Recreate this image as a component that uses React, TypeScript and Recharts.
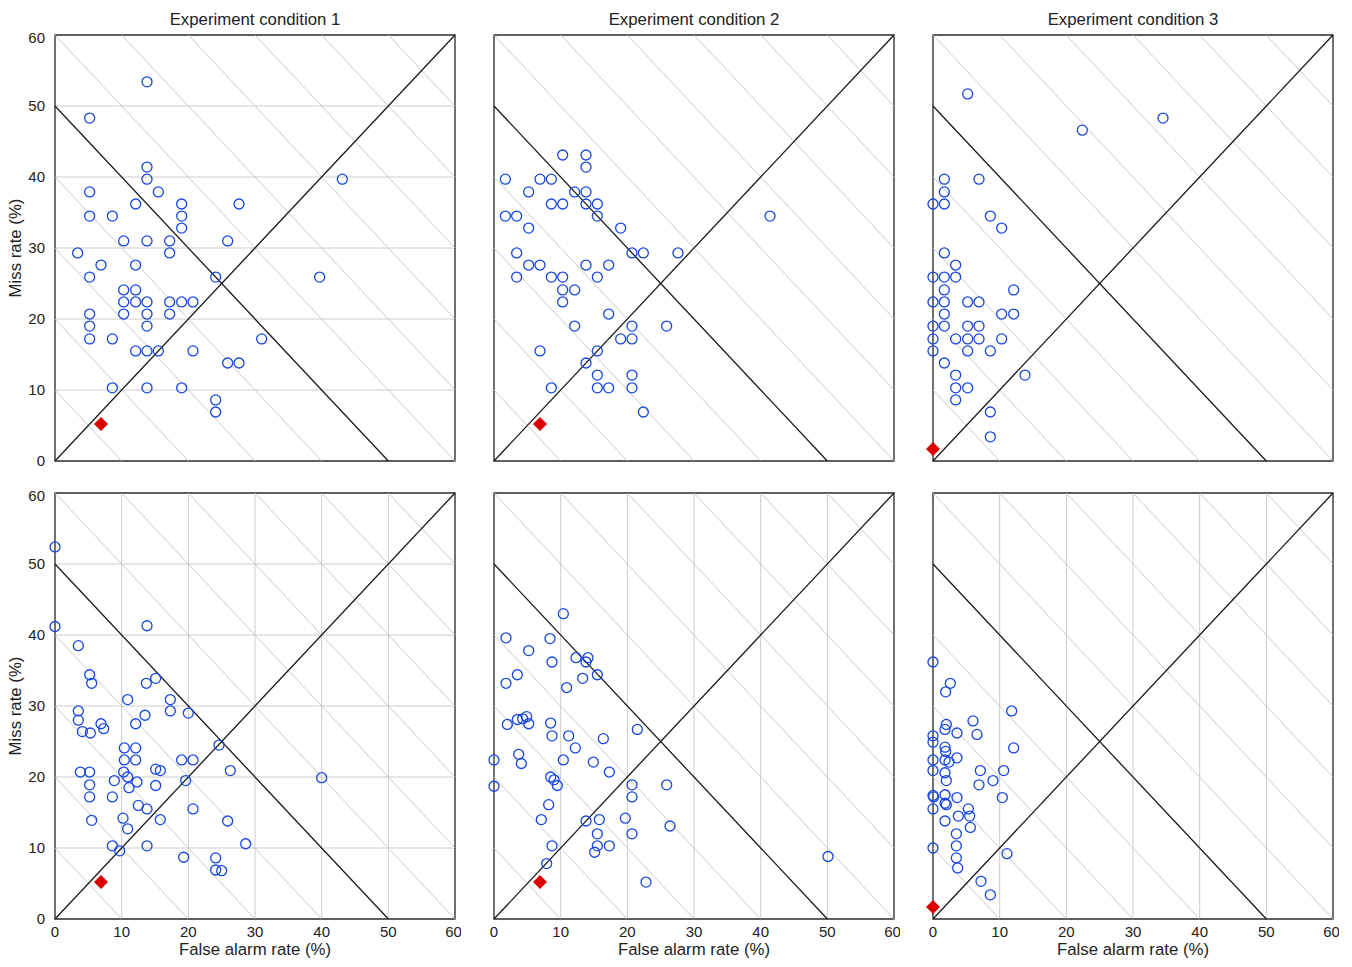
import {
  ScatterChart,
  Scatter,
  XAxis,
  YAxis,
  CartesianGrid,
  ReferenceLine,
  ReferenceArea,
} from "recharts";

const BLUE = "#1746e0";
const RED = "#dd0000";
const FONT = '"Liberation Sans", Arial, sans-serif';

const TICKS = [0, 10, 20, 30, 40, 50, 60];
// x + y = k grey guide lines
const DIAG_LEVELS = [10, 20, 30, 40, 60, 70, 80, 90, 100, 110];
const CONDITIONS = ["Experiment condition 1", "Experiment condition 2", "Experiment condition 3"];

// [false alarm %, miss %]
const ROW1_COND1 = [
  [13.8, 53.4], [5.2, 48.3], [13.8, 41.4], [13.8, 39.7], [43.1, 39.7], [5.2, 37.9], [15.5, 37.9],
  [12.1, 36.2], [19.0, 36.2], [27.6, 36.2], [5.2, 34.5], [8.6, 34.5], [19.0, 34.5], [19.0, 32.8],
  [10.3, 31.0], [13.8, 31.0], [17.2, 31.0], [25.9, 31.0], [3.4, 29.3], [17.2, 29.3], [6.9, 27.6],
  [12.1, 27.6], [5.2, 25.9], [24.1, 25.9], [39.7, 25.9], [10.3, 24.1], [12.1, 24.1], [10.3, 22.4],
  [12.1, 22.4], [13.8, 22.4], [17.2, 22.4], [19.0, 22.4], [20.7, 22.4], [5.2, 20.7], [10.3, 20.7],
  [13.8, 20.7], [17.2, 20.7], [5.2, 19.0], [13.8, 19.0], [5.2, 17.2], [8.6, 17.2], [31.0, 17.2],
  [12.1, 15.5], [13.8, 15.5], [15.5, 15.5], [20.7, 15.5], [25.9, 13.8], [27.6, 13.8], [8.6, 10.3],
  [13.8, 10.3], [19.0, 10.3], [24.1, 8.6], [24.1, 6.9],
];
const ROW1_COND2 = [
  [10.3, 43.1], [13.8, 43.1], [13.8, 41.4], [1.7, 39.7], [6.9, 39.7], [8.6, 39.7], [5.2, 37.9],
  [12.1, 37.9], [13.8, 37.9], [8.6, 36.2], [10.3, 36.2], [13.8, 36.2], [15.5, 36.2], [1.7, 34.5],
  [3.4, 34.5], [15.5, 34.5], [41.4, 34.5], [5.2, 32.8], [19.0, 32.8], [3.4, 29.3], [20.7, 29.3],
  [22.4, 29.3], [27.6, 29.3], [5.2, 27.6], [6.9, 27.6], [13.8, 27.6], [17.2, 27.6], [3.4, 25.9],
  [8.6, 25.9], [10.3, 25.9], [15.5, 25.9], [10.3, 24.1], [12.1, 24.1], [10.3, 22.4], [17.2, 20.7],
  [12.1, 19.0], [20.7, 19.0], [25.9, 19.0], [19.0, 17.2], [20.7, 17.2], [6.9, 15.5], [15.5, 15.5],
  [13.8, 13.8], [15.5, 12.1], [20.7, 12.1], [8.6, 10.3], [15.5, 10.3], [17.2, 10.3], [20.7, 10.3],
  [22.4, 6.9],
];
const ROW1_COND3 = [
  [5.2, 51.7], [34.5, 48.3], [22.4, 46.6], [1.7, 39.7], [6.9, 39.7], [1.7, 37.9], [0, 36.2],
  [1.7, 36.2], [8.6, 34.5], [10.3, 32.8], [1.7, 29.3], [3.4, 27.6], [0, 25.9], [1.7, 25.9],
  [3.4, 25.9], [1.7, 24.1], [12.1, 24.1], [0, 22.4], [1.7, 22.4], [5.2, 22.4], [6.9, 22.4],
  [1.7, 20.7], [10.3, 20.7], [12.1, 20.7], [0, 19.0], [1.7, 19.0], [5.2, 19.0], [6.9, 19.0],
  [0, 17.2], [3.4, 17.2], [5.2, 17.2], [6.9, 17.2], [10.3, 17.2], [0, 15.5], [5.2, 15.5],
  [8.6, 15.5], [1.7, 13.8], [13.8, 12.1], [3.4, 12.1], [3.4, 10.3], [5.2, 10.3], [3.4, 8.6],
  [8.6, 6.9], [8.6, 3.4],
];
const ROW2_COND1 = [
  [0, 52.4], [0, 41.2], [13.8, 41.3], [3.5, 38.5], [5.2, 34.4], [5.5, 33.2], [13.7, 33.2],
  [15.1, 33.9], [10.9, 30.9], [17.3, 30.9], [3.5, 29.3], [17.3, 29.3], [20.0, 29.0], [13.5, 28.7],
  [3.5, 28.0], [6.9, 27.5], [7.3, 26.8], [12.1, 27.5], [4.1, 26.4], [5.3, 26.2], [10.4, 24.1],
  [12.1, 24.1], [24.6, 24.5], [10.4, 22.4], [12.1, 22.4], [19.0, 22.4], [20.7, 22.4], [15.1, 21.1],
  [15.8, 20.9], [26.3, 20.9], [3.8, 20.7], [5.2, 20.7], [10.3, 20.7], [10.9, 20.0], [40.0, 19.9],
  [19.6, 19.5], [8.9, 19.5], [12.3, 19.3], [5.2, 18.9], [15.1, 18.8], [11.1, 18.5], [5.2, 17.2],
  [8.6, 17.2], [12.5, 16.0], [13.8, 15.5], [20.7, 15.5], [10.2, 14.2], [15.8, 14.0], [25.9, 13.8],
  [5.5, 13.9], [10.9, 12.7], [28.6, 10.6], [8.6, 10.3], [13.8, 10.3], [9.7, 9.6], [19.3, 8.7],
  [24.1, 8.6], [24.1, 6.9], [25.0, 6.8],
];
const ROW2_COND2 = [
  [10.4, 43.0], [1.8, 39.6], [8.4, 39.5], [5.2, 37.8], [8.7, 36.2], [12.3, 36.8], [14.1, 36.8],
  [13.8, 36.2], [3.5, 34.4], [15.5, 34.4], [1.8, 33.2], [13.3, 33.9], [10.9, 32.6], [2.0, 27.4],
  [3.5, 28.1], [4.3, 28.2], [4.9, 28.5], [5.2, 27.5], [8.5, 27.6], [21.5, 26.7], [8.7, 25.8],
  [11.2, 25.8], [16.4, 25.4], [12.2, 24.1], [3.7, 23.2], [4.1, 21.9], [0, 22.4], [10.4, 22.4],
  [14.9, 22.1], [17.3, 20.7], [8.5, 20.0], [9.0, 19.6], [9.5, 18.8], [0, 18.7], [20.7, 18.9],
  [25.9, 18.9], [20.7, 17.2], [8.2, 16.1], [7.1, 14.0], [13.8, 13.8], [15.8, 14.0], [19.7, 14.2],
  [26.4, 13.1], [15.5, 12.0], [20.7, 12.0], [8.7, 10.3], [15.5, 10.3], [17.3, 10.3], [15.1, 9.4],
  [50.1, 8.8], [7.9, 7.8], [22.8, 5.2],
];
const ROW2_COND3 = [
  [0, 36.2], [2.6, 33.2], [1.9, 32.0], [11.8, 29.3], [6.0, 27.9], [2.0, 27.4], [1.8, 26.7],
  [3.6, 26.2], [6.6, 26.0], [0, 25.8], [0, 24.9], [1.8, 24.2], [1.9, 23.6], [12.1, 24.1],
  [0, 22.4], [1.8, 22.4], [2.4, 22.1], [3.6, 22.7], [0, 20.9], [1.8, 20.6], [2.0, 19.5],
  [7.1, 20.9], [10.6, 20.9], [9.0, 19.5], [6.9, 18.9], [0, 17.4], [0.1, 17.2], [1.8, 17.5],
  [3.6, 17.1], [1.8, 16.3], [2.0, 16.1], [10.4, 17.1], [0, 15.5], [5.3, 15.5], [3.8, 14.5],
  [5.5, 14.5], [1.8, 13.8], [5.6, 12.9], [3.5, 12.0], [3.5, 10.3], [0, 10.0], [11.1, 9.2],
  [3.5, 8.6], [3.7, 7.2], [7.2, 5.3], [8.6, 3.4],
];
// red diamond per condition
const REFERENCE_POINTS = [[6.9, 5.2], [6.9, 5.2], [0, 1.7]];

const ROWS = [
  [ROW1_COND1, ROW1_COND2, ROW1_COND3],
  [ROW2_COND1, ROW2_COND2, ROW2_COND3],
];

// page layout of the plot areas
const COL_LEFT = [55, 494, 933];
const ROW_TOP = [35, 493];
const PLOT_W = 400;
const PLOT_H = 426;
const Y_AXIS_W = 45;
const X_AXIS_H = 30;
const M_TOP = 6;
const M_RIGHT = 6;

const toPts = (arr: number[][]) => arr.map(([x, y]) => ({ x, y }));

const OpenCircle = (props: any) => (
  <circle cx={props.cx} cy={props.cy} r={5} fill="none" stroke={BLUE} strokeWidth={1.3} />
);

const Diamond = (props: any) => {
  const { cx, cy } = props;
  const s = 7;
  return (
    <polygon
      points={`${cx},${cy - s} ${cx + s},${cy} ${cx},${cy + s} ${cx - s},${cy}`}
      fill={RED}
    />
  );
};

const diagSegment = (k: number) => [
  { x: Math.max(0, k - 60), y: Math.min(60, k) },
  { x: Math.min(60, k), y: Math.max(0, k - 60) },
];

function Panel({
  data,
  refPoint,
  showX,
  showY,
}: {
  data: number[][];
  refPoint: number[];
  showX: boolean;
  showY: boolean;
}) {
  const tickStyle = { fontSize: 15, fill: "#222", fontFamily: FONT };
  return (
    <ScatterChart
      width={Y_AXIS_W + PLOT_W + M_RIGHT}
      height={M_TOP + PLOT_H + X_AXIS_H}
      margin={{ top: M_TOP, right: M_RIGHT, bottom: 0, left: 0 }}
    >
      <CartesianGrid stroke="#cccccc" strokeWidth={1} />
      <XAxis
        type="number"
        dataKey="x"
        domain={[0, 60]}
        ticks={TICKS}
        height={X_AXIS_H}
        axisLine={false}
        tickLine={false}
        tickMargin={1}
        tick={showX ? tickStyle : false}
      />
      <YAxis
        type="number"
        dataKey="y"
        domain={[0, 60]}
        ticks={TICKS}
        width={Y_AXIS_W}
        axisLine={false}
        tickLine={false}
        tickMargin={4}
        tick={showY ? tickStyle : false}
      />
      {DIAG_LEVELS.map((k) => (
        <ReferenceLine
          key={k}
          segment={diagSegment(k)}
          stroke="#c4c4c4"
          strokeWidth={0.9}
        />
      ))}
      <ReferenceLine
        segment={[{ x: 0, y: 0 }, { x: 60, y: 60 }]}
        stroke="#1a1a1a"
        strokeWidth={1.3}
      />
      <ReferenceLine
        segment={[{ x: 0, y: 50 }, { x: 50, y: 0 }]}
        stroke="#1a1a1a"
        strokeWidth={1.3}
      />
      <ReferenceArea
        x1={0}
        x2={60}
        y1={0}
        y2={60}
        fill="none"
        stroke="#333"
        strokeWidth={1.3}
      />
      <Scatter data={toPts(data)} shape={OpenCircle} isAnimationActive={false} />
      <Scatter data={toPts([refPoint])} shape={Diamond} isAnimationActive={false} />
    </ScatterChart>
  );
}

export default function App() {
  const textStyle = {
    position: "absolute" as const,
    fontFamily: FONT,
    fontSize: 16.8,
    lineHeight: "20px",
    color: "#222",
    textAlign: "center" as const,
    whiteSpace: "nowrap" as const,
  };
  return (
    <div
      style={{
        position: "absolute",
        left: 0,
        top: 0,
        width: 1352,
        height: 967,
        background: "#fff",
      }}
    >
      {CONDITIONS.map((c, i) => (
        <div key={c} style={{ ...textStyle, left: COL_LEFT[i], width: PLOT_W, top: 10 }}>
          {c}
        </div>
      ))}
      {ROWS.map((row, r) =>
        row.map((data, c) => (
          <div
            key={`${r}-${c}`}
            style={{
              position: "absolute",
              left: COL_LEFT[c] - Y_AXIS_W,
              top: ROW_TOP[r] - M_TOP,
            }}
          >
            <Panel data={data} refPoint={REFERENCE_POINTS[c]} showX={r === 1} showY={c === 0} />
          </div>
        ))
      )}
      {ROW_TOP.map((t) => (
        <div
          key={t}
          style={{
            ...textStyle,
            left: 16 - 100,
            width: 200,
            top: t + PLOT_H / 2 - 10,
            transform: "rotate(-90deg)",
          }}
        >
          Miss rate (%)
        </div>
      ))}
      {COL_LEFT.map((l) => (
        <div key={l} style={{ ...textStyle, left: l, width: PLOT_W, top: 940 }}>
          False alarm rate (%)
        </div>
      ))}
    </div>
  );
}
